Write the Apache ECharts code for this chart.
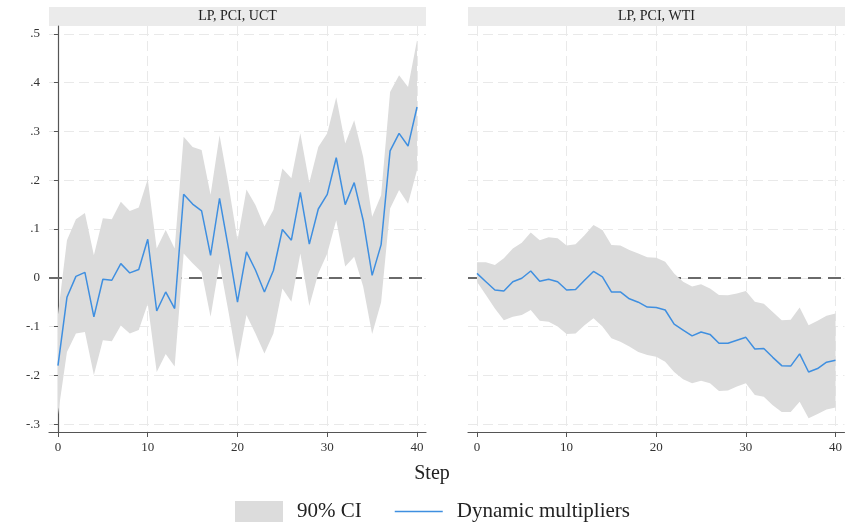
<!DOCTYPE html>
<html>
<head>
<meta charset="utf-8">
<script src="https://cdn.jsdelivr.net/npm/echarts@6/dist/echarts.min.js"></script>
<style>
  html, body { margin: 0; padding: 0; background: #fff; }
  #chart { width: 845px; height: 525px; }
</style>
</head>
<body>
<div id="chart"></div>
<script>
// horizon (steps) shared by both panels
const steps = [0, 1, 2, 3, 4, 5, 6, 7, 8, 9, 10, 11, 12, 13, 14, 15, 16, 17, 18, 19, 20,
  21, 22, 23, 24, 25, 26, 27, 28, 29, 30, 31, 32, 33, 34, 35, 36, 37, 38, 39, 40]
const xTicks = [0, 10, 20, 30, 40]
const yTicks = [-0.3, -0.2, -0.1, 0, 0.1, 0.2, 0.3, 0.4, 0.5]
const panelTitles = ['LP, PCI, UCT', 'LP, PCI, WTI']

// LP, PCI, UCT
const uctLine = [-0.18, -0.04, 0.003, 0.011, -0.08, -0.003, -0.005, 0.029, 0.01, 0.017, 0.079,
  -0.068, -0.029, -0.063, 0.171, 0.151, 0.137, 0.046, 0.163, 0.06, -0.05,
  0.053, 0.016, -0.029, 0.015, 0.099, 0.077, 0.175, 0.069, 0.141, 0.171,
  0.246, 0.15, 0.195, 0.118, 0.005, 0.068, 0.26, 0.296, 0.27, 0.35]
const uctUpper = [-0.075, 0.077, 0.12, 0.133, 0.046, 0.122, 0.12, 0.156, 0.137, 0.144, 0.202,
  0.06, 0.098, 0.06, 0.289, 0.268, 0.262, 0.17, 0.292, 0.19, 0.077,
  0.181, 0.149, 0.105, 0.139, 0.224, 0.204, 0.296, 0.195, 0.268, 0.296,
  0.37, 0.275, 0.323, 0.248, 0.125, 0.169, 0.381, 0.415, 0.391, 0.487]
const uctLower = [-0.28, -0.152, -0.114, -0.111, -0.199, -0.128, -0.13, -0.098, -0.114, -0.107, -0.053,
  -0.193, -0.156, -0.182, 0.05, 0.03, 0.012, -0.08, 0.03, -0.07, -0.175,
  -0.076, -0.114, -0.155, -0.114, -0.022, -0.049, 0.05, -0.058, 0.009, 0.05,
  0.118, 0.023, 0.043, -0.018, -0.115, -0.05, 0.142, 0.18, 0.152, 0.221]

// LP, PCI, WTI
const wtiLine = [0.009, -0.008, -0.025, -0.027, -0.008, -0.001, 0.014, -0.007, -0.003, -0.008, -0.025,
  -0.024, -0.005, 0.013, 0.002, -0.029, -0.029, -0.043, -0.05, -0.06, -0.061,
  -0.066, -0.095, -0.107, -0.119, -0.111, -0.116, -0.134, -0.134, -0.128, -0.122,
  -0.146, -0.145, -0.163, -0.18, -0.181, -0.156, -0.193, -0.186, -0.173, -0.169]
const wtiUpper = [0.032, 0.032, 0.026, 0.04, 0.06, 0.072, 0.093, 0.077, 0.083, 0.081, 0.066,
  0.069, 0.087, 0.108, 0.098, 0.067, 0.066, 0.057, 0.05, 0.042, 0.041,
  0.033, 0.009, -0.008, -0.018, -0.013, -0.022, -0.035, -0.036, -0.032, -0.027,
  -0.049, -0.053, -0.07, -0.087, -0.086, -0.061, -0.097, -0.088, -0.078, -0.073]
const wtiLower = [-0.008, -0.035, -0.063, -0.087, -0.08, -0.076, -0.066, -0.088, -0.09, -0.1, -0.115,
  -0.114, -0.097, -0.083, -0.1, -0.124, -0.131, -0.141, -0.152, -0.158, -0.162,
  -0.172, -0.193, -0.208, -0.216, -0.211, -0.216, -0.232, -0.231, -0.223, -0.216,
  -0.24, -0.244, -0.261, -0.275, -0.275, -0.254, -0.288, -0.279, -0.27, -0.266]

const panels = [
  { line: uctLine, upper: uctUpper, lower: uctLower },
  { line: wtiLine, upper: wtiUpper, lower: wtiLower }
]

const serif = '"Liberation Serif", "DejaVu Serif", serif'
const ciColor = '#dcdcdc'
const lineColor = '#3f8fe0'
const axisColor = '#555'
const gridLine = { show: true, lineStyle: { color: '#e9e9e9', width: 1, type: [10, 5] } }

const grids = [
  { left: 49, top: 26, width: 377, height: 406 },
  { left: 468, top: 26, width: 377, height: 406 }
]

const fmtY = v => {
  if (Math.abs(v) < 1e-9) return '0'
  return String(Math.round(v * 10) / 10).replace('0.', '.')
}

const xAxes = grids.map((g, i) => ({
  type: 'value', gridIndex: i, min: -1, max: 41,
  axisLine: { show: true, onZero: false, lineStyle: { color: axisColor, width: 1.2 } },
  axisTick: { show: true, length: 5, customValues: xTicks, lineStyle: { color: axisColor } },
  axisLabel: { customValues: xTicks, margin: 9, fontFamily: serif, fontSize: 13, color: '#333' },
  splitLine: gridLine
}))

const yAxes = grids.map((g, i) => ({
  type: 'value', gridIndex: i, min: -0.316, max: 0.516,
  axisLine: { show: i === 0, lineStyle: { color: axisColor, width: 1.2 } },
  axisTick: { show: i === 0, length: 4, customValues: yTicks, lineStyle: { color: axisColor } },
  axisLabel: { show: i === 0, customValues: yTicks, margin: 9, formatter: fmtY,
    fontFamily: serif, fontSize: 13, color: '#333' },
  splitLine: gridLine
}))

const bandRenderer = (upper, lower) => (params, api) => {
  if (params.dataIndex !== 0) return null
  const pts = []
  steps.forEach((s, k) => pts.push(api.coord([s, upper[k]])))
  for (let k = steps.length - 1; k >= 0; k--) pts.push(api.coord([steps[k], lower[k]]))
  return { type: 'polygon', shape: { points: pts }, style: { fill: ciColor } }
}

const series = []
panels.forEach((p, i) => {
  series.push({
    type: 'line', xAxisIndex: i, yAxisIndex: i, data: [], z: 1, silent: true,
    markLine: {
      z: 1, silent: true, symbol: 'none', label: { show: false },
      lineStyle: { color: '#6a6a6a', width: 2, type: [13, 7] },
      data: [{ yAxis: 0 }]
    }
  })
  series.push({
    name: '90% CI', type: 'custom', xAxisIndex: i, yAxisIndex: i, z: 2, silent: true,
    itemStyle: { color: ciColor },
    encode: { x: 0, y: [1, 2] },
    data: steps.map((s, k) => [s, p.lower[k], p.upper[k]]),
    renderItem: bandRenderer(p.upper, p.lower)
  })
  series.push({
    name: 'Dynamic multipliers', type: 'line', xAxisIndex: i, yAxisIndex: i, z: 3,
    symbol: 'none', silent: true,
    lineStyle: { color: lineColor, width: 1.5 },
    itemStyle: { color: lineColor },
    data: steps.map((s, k) => [s, p.line[k]])
  })
})

const graphic = []
grids.forEach((g, i) => {
  graphic.push({
    type: 'rect', left: g.left, top: 7, silent: true,
    shape: { width: g.width, height: 19 }, style: { fill: '#ebebeb' }
  })
  graphic.push({
    type: 'text', x: g.left + g.width / 2, y: 16.5, silent: true,
    style: { text: panelTitles[i], fill: '#222', font: '14px ' + serif, align: 'center', verticalAlign: 'middle' }
  })
})
graphic.push({
  type: 'text', x: 432, y: 474, silent: true,
  style: { text: 'Step', fill: '#222', font: '20px ' + serif, align: 'center', verticalAlign: 'middle' }
})

const chart = echarts.init(document.getElementById('chart'))
chart.setOption({
  animation: false,
  backgroundColor: '#fff',
  grid: grids,
  xAxis: xAxes,
  yAxis: yAxes,
  legend: {
    left: 235, top: 501, padding: 0, itemWidth: 48, itemHeight: 21, itemGap: 33,
    selectedMode: false,
    textStyle: { fontFamily: serif, fontSize: 21, color: '#222', padding: [0, 0, 0, 9] },
    data: [
      { name: '90% CI', icon: 'rect', itemStyle: { color: ciColor } },
      { name: 'Dynamic multipliers', icon: 'path://M0,0 L48,0 L48,1.6 L0,1.6 Z', itemStyle: { color: lineColor } }
    ]
  },
  graphic: graphic,
  series: series
})
</script>
</body>
</html>
